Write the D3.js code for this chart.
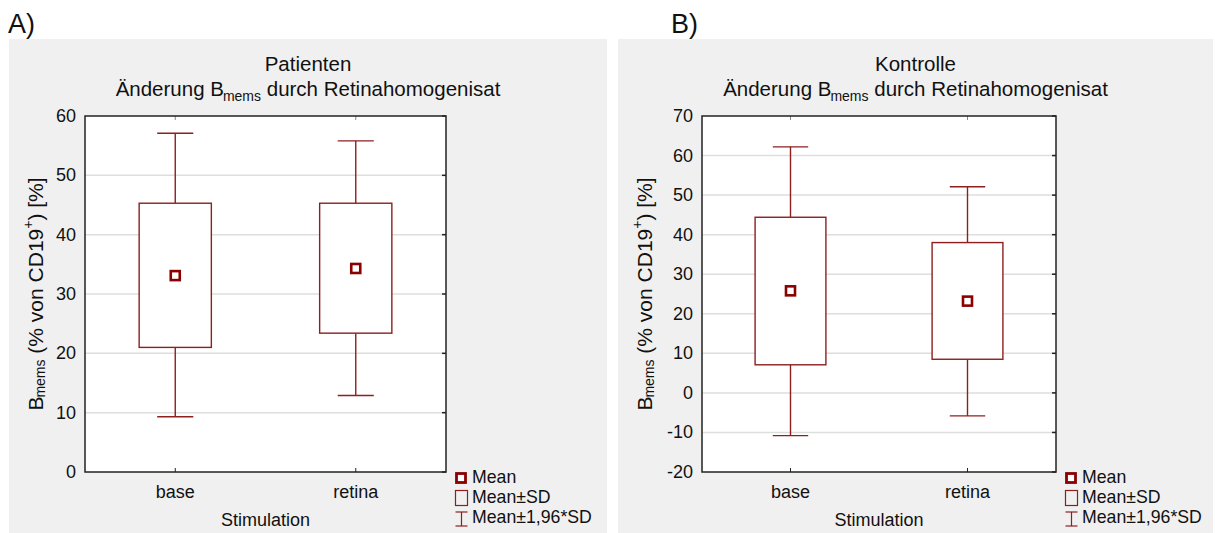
<!DOCTYPE html>
<html>
<head>
<meta charset="utf-8">
<script src="https://d3js.org/d3.v7.min.js"></script>
<style>
  body { margin: 0; background: #fff; }
  text { font-family: "Liberation Sans", Arial, sans-serif; fill: #111; }
</style>
</head>
<body>
<div id="chart"></div>
<script>
// categories on the x axis
const categories = ["base", "retina"];

// Patienten (panel A)
const patMean   = [33.1, 34.3];
const patSdLow  = [21.0, 23.4];
const patSdHigh = [45.3, 45.3];
const patCiLow  = [9.3, 12.9];
const patCiHigh = [57.1, 55.8];
const patTicks  = [0, 10, 20, 30, 40, 50, 60];

// Kontrolle (panel B)
const konMean   = [25.8, 23.2];
const konSdLow  = [7.1, 8.5];
const konSdHigh = [44.4, 38.0];
const konCiLow  = [-10.8, -5.8];
const konCiHigh = [62.2, 52.1];
const konTicks  = [-20, -10, 0, 10, 20, 30, 40, 50, 60, 70];

const legendLabels = ["Mean", "Mean±SD", "Mean±1,96*SD"];

const W = 1215, H = 533;
const dark = "#8b0000", boxCol = "#8e1f1f";

const svg = d3.select("#chart").append("svg")
    .attr("width", W).attr("height", H);

function drawPanel(p) {
  const g = svg.append("g");

  // grey panel background
  g.append("rect")
    .attr("x", p.px).attr("y", 39)
    .attr("width", p.pw).attr("height", H - 39)
    .attr("fill", "#f0f0f0");

  // panel letter
  g.append("text")
    .attr("x", p.letterX).attr("y", 33)
    .style("font-size", "27px")
    .text(p.letter);

  const left = p.left, right = p.right, top = 116, bottom = 472;

  const x = d3.scaleBand().domain(categories).range([left, right]);
  const y = d3.scaleLinear().domain([p.ticks[0], p.ticks[p.ticks.length - 1]]).range([bottom, top]);
  const cx = d => x(d) + x.bandwidth() / 2;

  // plot area
  g.append("rect")
    .attr("x", left).attr("y", top)
    .attr("width", right - left).attr("height", bottom - top)
    .attr("fill", "#fff");

  // grid lines
  g.selectAll(".grid")
    .data(p.ticks.slice(1, -1))
    .join("line")
      .attr("x1", left).attr("x2", right)
      .attr("y1", d => y(d)).attr("y2", d => y(d))
      .attr("stroke", "#dedede").attr("stroke-width", 1.5);

  // titles
  const cxPanel = p.px + p.pw / 2;
  g.append("text")
    .attr("x", cxPanel).attr("y", 71)
    .attr("text-anchor", "middle")
    .style("font-size", "20.5px")
    .text(p.title);
  const t2 = g.append("text")
    .attr("x", cxPanel).attr("y", 96)
    .attr("text-anchor", "middle")
    .style("font-size", "20.5px");
  t2.append("tspan").text("Änderung B");
  t2.append("tspan").attr("dy", 5).attr("dx", -1).style("font-size", "14px").text("mems");
  t2.append("tspan").attr("dy", -5).text(" durch Retinahomogenisat");

  // y tick labels
  g.selectAll(".ylab")
    .data(p.ticks)
    .join("text")
      .attr("x", left - 9).attr("y", d => y(d))
      .attr("text-anchor", "end")
      .attr("dominant-baseline", "central")
      .style("font-size", "18px")
      .text(d => d);

  // right axis ticks (inward)
  g.selectAll(".rtick")
    .data(p.ticks)
    .join("line")
      .attr("x1", right - 4).attr("x2", right)
      .attr("y1", d => y(d)).attr("y2", d => y(d))
      .attr("stroke", "#222").attr("stroke-width", 1.5);

  // category ticks top and bottom
  g.selectAll(".btick")
    .data(categories)
    .join("line")
      .attr("x1", d => cx(d)).attr("x2", d => cx(d))
      .attr("y1", bottom).attr("y2", bottom - 4)
      .attr("stroke", "#222");
  g.selectAll(".ttick")
    .data(categories)
    .join("line")
      .attr("x1", d => cx(d)).attr("x2", d => cx(d))
      .attr("y1", top).attr("y2", top + 4)
      .attr("stroke", "#888");

  // x labels
  g.selectAll(".xlab")
    .data(categories)
    .join("text")
      .attr("x", d => cx(d)).attr("y", 498)
      .attr("text-anchor", "middle")
      .style("font-size", "18px")
      .text(d => d);

  g.append("text")
    .attr("x", (left + right) / 2).attr("y", 526)
    .attr("text-anchor", "middle")
    .style("font-size", "18px")
    .text("Stimulation");

  // y title
  const yt = g.append("text")
    .attr("transform", `translate(${p.ytX}, ${(top + bottom) / 2}) rotate(-90)`)
    .attr("text-anchor", "middle")
    .attr("dominant-baseline", "central")
    .style("font-size", "21px");
  yt.append("tspan").text("B");
  yt.append("tspan").attr("dy", 5).attr("dx", -1).style("font-size", "14px").text("mems");
  yt.append("tspan").attr("dy", -5).text(" (% von CD19");
  yt.append("tspan").attr("dy", -7).style("font-size", "14px").text("+");
  yt.append("tspan").attr("dy", 7).text(") [%]");

  // whiskers
  const boxW = x.bandwidth() * 0.4, capW = x.bandwidth() * 0.2;
  const idx = categories.map((c, i) => i);
  g.selectAll(".whisk")
    .data(idx)
    .join("line")
      .attr("x1", i => cx(categories[i])).attr("x2", i => cx(categories[i]))
      .attr("y1", i => y(p.ciLow[i])).attr("y2", i => y(p.ciHigh[i]))
      .attr("stroke", boxCol).attr("stroke-width", 1.4);
  [p.ciLow, p.ciHigh].forEach(arr => {
    g.selectAll(null)
      .data(idx)
      .join("line")
        .attr("x1", i => cx(categories[i]) - capW / 2).attr("x2", i => cx(categories[i]) + capW / 2)
        .attr("y1", i => y(arr[i])).attr("y2", i => y(arr[i]))
        .attr("stroke", boxCol).attr("stroke-width", 1.4);
  });

  // SD boxes
  g.selectAll(".box")
    .data(idx)
    .join("rect")
      .attr("x", i => cx(categories[i]) - boxW / 2)
      .attr("y", i => y(p.sdHigh[i]))
      .attr("width", boxW)
      .attr("height", i => y(p.sdLow[i]) - y(p.sdHigh[i]))
      .attr("fill", "#fff").attr("stroke", boxCol).attr("stroke-width", 1.4);

  // means
  g.selectAll(".mean")
    .data(idx)
    .join("rect")
      .attr("x", i => cx(categories[i]) - 4.5)
      .attr("y", i => y(p.mean[i]) - 4.5)
      .attr("width", 9).attr("height", 9)
      .attr("fill", "#fff").attr("stroke", dark).attr("stroke-width", 2.6);

  // frame
  g.append("rect")
    .attr("x", left).attr("y", top)
    .attr("width", right - left).attr("height", bottom - top)
    .attr("fill", "none").attr("stroke", "#222").attr("stroke-width", 1.5);

  // legend
  const lx = right + 9;
  g.append("rect").attr("x", lx + 1.5).attr("y", 473.5).attr("width", 9).attr("height", 9)
    .attr("fill", "#fff").attr("stroke", dark).attr("stroke-width", 2.8);
  g.append("rect").attr("x", lx + 0.5).attr("y", 490.5).attr("width", 12).attr("height", 15)
    .attr("fill", "none").attr("stroke", boxCol).attr("stroke-width", 1.2);
  g.append("line").attr("x1", lx + 6.5).attr("x2", lx + 6.5).attr("y1", 512).attr("y2", 526)
    .attr("stroke", boxCol).attr("stroke-width", 1.2);
  g.append("line").attr("x1", lx + 0.5).attr("x2", lx + 12.5).attr("y1", 512).attr("y2", 512)
    .attr("stroke", boxCol).attr("stroke-width", 1.2);
  g.append("line").attr("x1", lx + 0.5).attr("x2", lx + 12.5).attr("y1", 526).attr("y2", 526)
    .attr("stroke", boxCol).attr("stroke-width", 1.2);
  g.selectAll(".leg")
    .data(legendLabels)
    .join("text")
      .attr("x", lx + 17).attr("y", (d, i) => 483 + i * 20)
      .style("font-size", "17.7px")
      .text(d => d);
}

drawPanel({
  letter: "A)", letterX: 8, px: 9, pw: 598, left: 85, right: 446, ytX: 35,
  title: "Patienten", ticks: patTicks,
  mean: patMean, sdLow: patSdLow, sdHigh: patSdHigh, ciLow: patCiLow, ciHigh: patCiHigh
});
drawPanel({
  letter: "B)", letterX: 671, px: 618, pw: 595, left: 702, right: 1056, ytX: 644,
  title: "Kontrolle", ticks: konTicks,
  mean: konMean, sdLow: konSdLow, sdHigh: konSdHigh, ciLow: konCiLow, ciHigh: konCiHigh
});
</script>
</body>
</html>
